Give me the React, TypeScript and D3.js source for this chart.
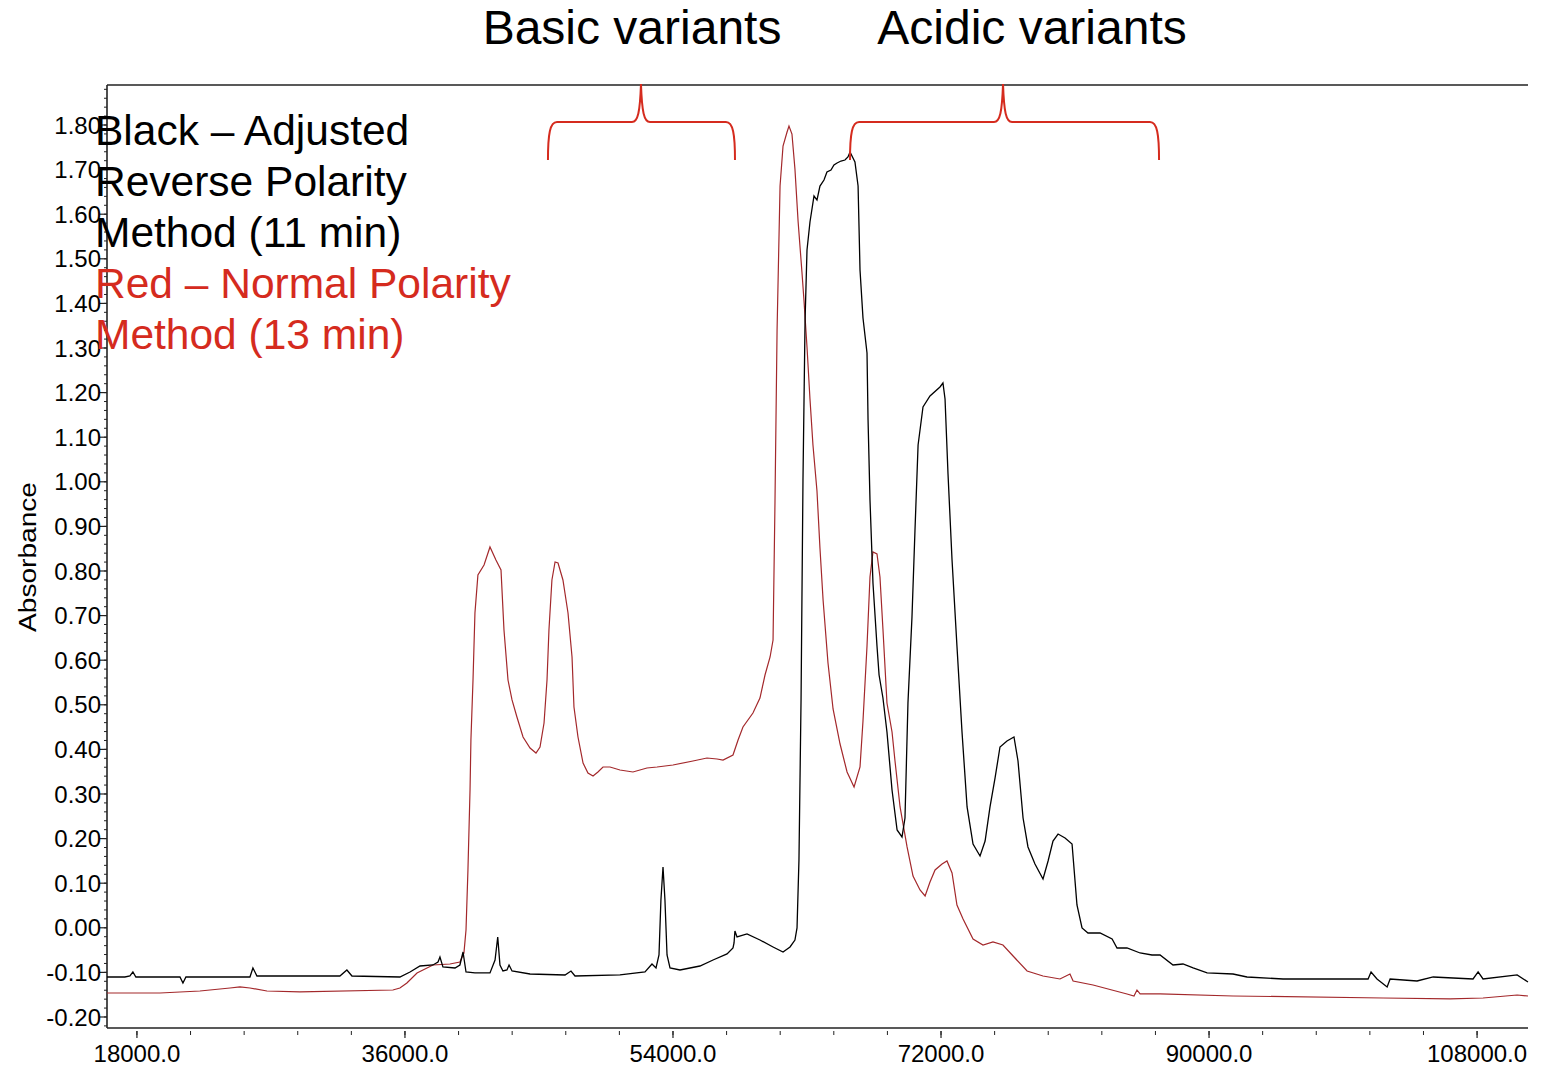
import React from "react";
import * as d3 from "d3";

// ---- Data (x: acquisition units, y: absorbance) ----
const xTickValues = [18000, 36000, 54000, 72000, 90000, 108000];
const yTickValues = [-0.2, -0.1, 0, 0.1, 0.2, 0.3, 0.4, 0.5, 0.6, 0.7, 0.8, 0.9, 1.0, 1.1, 1.2, 1.3, 1.4, 1.5, 1.6, 1.7, 1.8];
const xDomain = [15990, 111420];
const yDomain = [-0.2247, 1.8897];

const titles = ["Basic variants", "Acidic variants"];
const titleCenters = [51250, 78110];

const legendLines = [
  { text: "Black \u2013 Adjusted", color: "#000000" },
  { text: "Reverse Polarity", color: "#000000" },
  { text: "Method (11 min)", color: "#000000" },
  { text: "Red \u2013 Normal Polarity", color: "#d52b1e" },
  { text: "Method (13 min)", color: "#d52b1e" },
];

// brackets: [left, middle, right] in x units; ends, bar and tip in absorbance
const brackets = [
  { left: 45604, mid: 51850, right: 58164 },
  { left: 65888, mid: 76164, right: 86642 },
];
const bracketEndY = 1.7215;
const bracketBarY = 1.8067;
const bracketTipY = 1.8919;

const blackSeries: [number, number][] = [
  [15990, -0.1103], [17190, -0.1103], [17530, -0.1081], [17730, -0.0991], [17930, -0.1103],
  [20890, -0.1103], [21090, -0.1238], [21290, -0.1103], [25590, -0.1103], [25790, -0.0901],
  [26060, -0.1081], [31630, -0.1081], [32100, -0.0946], [32440, -0.1081], [35660, -0.1103],
  [36340, -0.0991], [37010, -0.0857], [37880, -0.0834], [38220, -0.0767], [38350, -0.0655],
  [38550, -0.0879], [39360, -0.0901], [39690, -0.0834], [39900, -0.0543], [40100, -0.0991],
  [40700, -0.1013], [41710, -0.1013], [42050, -0.0722], [42230, -0.0206], [42380, -0.0834],
  [42580, -0.0969], [42850, -0.0946], [42990, -0.0834], [43190, -0.0969], [44400, -0.1036],
  [46750, -0.1058], [47150, -0.0969], [47420, -0.1081], [50440, -0.1058], [52120, -0.0991],
  [52590, -0.0812], [52860, -0.0901], [53060, -0.0610], [53190, 0.0623], [53330, 0.1363],
  [53460, 0.0623], [53600, -0.0610], [53800, -0.0901], [54470, -0.0946], [55810, -0.0857],
  [56690, -0.0722], [57630, -0.0587], [58030, -0.0453], [58100, -0.0341], [58160, -0.0072],
  [58300, -0.0206], [58970, -0.0139], [59840, -0.0274], [60720, -0.0430], [61390, -0.0543],
  [61860, -0.0430], [62190, -0.0274], [62330, -0.0004], [62460, 0.1520], [62600, 0.5108],
  [62730, 1.0040], [62870, 1.3628], [63000, 1.5197], [63200, 1.5825], [63470, 1.6408],
  [63670, 1.6318], [63870, 1.6632], [64140, 1.6767], [64340, 1.6946], [64610, 1.6991],
  [64810, 1.7103], [65020, 1.7148], [65280, 1.7193], [65550, 1.7215], [65750, 1.7283],
  [65890, 1.7395], [66220, 1.7170], [66430, 1.6632], [66560, 1.4749], [66760, 1.3673],
  [67030, 1.2888], [67100, 1.1386], [67230, 0.9592], [67430, 0.7731], [67700, 0.6318],
  [67840, 0.5668], [68100, 0.5152], [68370, 0.4390], [68710, 0.3090], [69050, 0.2193],
  [69380, 0.2036], [69580, 0.2462], [69780, 0.5040], [70050, 0.6969], [70250, 0.8897],
  [70460, 1.0825], [70790, 1.1677], [71260, 1.1924], [71930, 1.2126], [72130, 1.2215],
  [72270, 1.1857], [72470, 1.0175], [72740, 0.8247], [73070, 0.6318], [73410, 0.4390],
  [73750, 0.2709], [74150, 0.1879], [74620, 0.1610], [74960, 0.1946], [75290, 0.2709],
  [75630, 0.3359], [75960, 0.4054], [76430, 0.4188], [76900, 0.4278], [77170, 0.3740],
  [77510, 0.2462], [77840, 0.1812], [78310, 0.1430], [78850, 0.1094], [79190, 0.1498],
  [79520, 0.1946], [79860, 0.2103], [80330, 0.2013], [80800, 0.1879], [81130, 0.0511],
  [81470, -0.0004], [81870, -0.0117], [82680, -0.0117], [83490, -0.0251], [83820, -0.0453],
  [84490, -0.0453], [85370, -0.0565], [86170, -0.0610], [86710, -0.0610], [87580, -0.0834],
  [88250, -0.0812], [88930, -0.0901], [89870, -0.1013], [91610, -0.1036], [92550, -0.1103],
  [94970, -0.1148], [100680, -0.1148], [100880, -0.0991], [101280, -0.1148], [101960, -0.1327],
  [102160, -0.1148], [103970, -0.1193], [105050, -0.1103], [107730, -0.1148], [108070, -0.0991],
  [108400, -0.1148], [110690, -0.1058], [111420, -0.1215],
];

const redSeries: [number, number][] = [
  [15990, -0.1462], [19550, -0.1462], [22230, -0.1417], [24250, -0.1350], [24920, -0.1327],
  [25590, -0.1350], [26730, -0.1417], [28950, -0.1439], [35190, -0.1395], [35660, -0.1350],
  [36130, -0.1238], [36810, -0.1013], [37880, -0.0834], [39020, -0.0812], [39690, -0.0767],
  [39960, -0.0565], [40100, -0.0049], [40230, 0.1296], [40370, 0.3090], [40430, 0.4211],
  [40570, 0.5556], [40700, 0.7058], [40900, 0.7910], [41310, 0.8135], [41710, 0.8538],
  [42110, 0.8247], [42450, 0.8022], [42650, 0.6677], [42920, 0.5556], [43190, 0.5108],
  [43520, 0.4726], [43930, 0.4278], [44400, 0.4031], [44800, 0.3919], [45070, 0.4054],
  [45340, 0.4592], [45540, 0.5556], [45670, 0.6677], [45870, 0.7798], [46080, 0.8202],
  [46280, 0.8179], [46610, 0.7798], [46950, 0.7058], [47220, 0.6072], [47350, 0.4951],
  [47620, 0.4278], [47960, 0.3695], [48290, 0.3471], [48630, 0.3404], [48960, 0.3493],
  [49300, 0.3605], [49770, 0.3605], [50440, 0.3538], [51310, 0.3493], [52250, 0.3583],
  [52930, 0.3605], [54000, 0.3650], [55340, 0.3740], [56280, 0.3807], [56960, 0.3785],
  [57360, 0.3762], [58030, 0.3874], [58370, 0.4211], [58700, 0.4502], [59370, 0.4816],
  [59840, 0.5152], [60180, 0.5668], [60520, 0.6072], [60720, 0.6453], [60850, 0.9547],
  [60990, 1.3404], [61190, 1.6632], [61390, 1.7529], [61660, 1.7843], [61790, 1.7978],
  [61990, 1.7798], [62190, 1.7013], [62400, 1.5848], [62660, 1.4704], [62800, 1.4054],
  [63000, 1.3022], [63200, 1.1857], [63400, 1.0825], [63670, 0.9794], [63870, 0.8516],
  [64080, 0.7350], [64410, 0.5937], [64750, 0.4906], [65220, 0.4121], [65690, 0.3493],
  [66160, 0.3157], [66560, 0.3605], [66760, 0.4637], [67030, 0.6318], [67230, 0.7865],
  [67430, 0.8426], [67700, 0.8381], [67900, 0.7865], [68100, 0.6700], [68370, 0.5040],
  [68710, 0.4390], [68910, 0.3740], [69250, 0.2709], [69720, 0.1812], [70120, 0.1161],
  [70590, 0.0848], [70930, 0.0713], [71260, 0.1027], [71600, 0.1296], [72070, 0.1430],
  [72400, 0.1498], [72740, 0.1229], [73070, 0.0511], [73480, 0.0197], [74150, -0.0251],
  [74820, -0.0386], [75490, -0.0318], [76160, -0.0386], [76840, -0.0632], [77780, -0.0969],
  [78850, -0.1081], [79990, -0.1148], [80660, -0.1036], [80870, -0.1193], [82210, -0.1283],
  [84490, -0.1484], [84960, -0.1529], [85160, -0.1395], [85370, -0.1484], [86710, -0.1484],
  [91610, -0.1529], [101690, -0.1574], [106190, -0.1596], [108400, -0.1574], [110690, -0.1507],
  [111420, -0.1529],
];

const FONT = "'Liberation Sans', Arial, Helvetica, sans-serif";

export default function App() {
  const W = 1542;
  const H = 1067;
  const left = 107;
  const right = 1528;
  const top = 85;
  const bottom = 1028;

  const x = d3.scaleLinear().domain(xDomain).range([left, right]);
  const y = d3.scaleLinear().domain(yDomain).range([bottom, top]);

  const line = d3
    .line<[number, number]>()
    .x((d) => x(d[0]))
    .y((d) => y(d[1]));

  const yMinor = d3.range(-0.22, 1.885, 0.02).filter((v) => y(v) <= bottom && y(v) >= top);
  const xMinor = d3.range(18000, 108001, 3600);

  const bracketPath = (b: { left: number; mid: number; right: number }) => {
    const xl = x(b.left), xm = x(b.mid), xr = x(b.right);
    const ye = y(bracketEndY), yb = y(bracketBarY), yt = y(bracketTipY);
    return (
      `M${xl},${ye} C${xl},${yb + 12} ${xl + 2},${yb} ${xl + 9},${yb} ` +
      `L${xm - 9},${yb} C${xm - 3},${yb} ${xm - 1},${yb - 10} ${xm},${yt} ` +
      `C${xm + 1},${yb - 10} ${xm + 3},${yb} ${xm + 9},${yb} ` +
      `L${xr - 9},${yb} C${xr - 2},${yb} ${xr},${yb + 12} ${xr},${ye}`
    );
  };

  return (
    <div style={{ position: "absolute", left: 0, top: 0 }}>
      <svg width={W} height={H} style={{ display: "block", background: "#fff" }} fontFamily={FONT}>
        <rect x={0} y={0} width={W} height={H} fill="#ffffff" />

        {/* titles */}
        {titles.map((t, i) => (
          <text key={t} x={x(titleCenters[i])} y={44} fontSize={48} textAnchor="middle" fill="#000">
            {t}
          </text>
        ))}

        {/* frame */}
        <line x1={left} x2={right} y1={top} y2={top} stroke="#222" strokeWidth={1.6} />
        <line x1={left} x2={left} y1={top} y2={bottom} stroke="#222" strokeWidth={1.6} />
        <line x1={left} x2={right} y1={bottom} y2={bottom} stroke="#222" strokeWidth={1.6} />

        {/* y ticks */}
        {yMinor.map((v, i) => (
          <line key={"ym" + i} x1={left - 3} x2={left} y1={y(v)} y2={y(v)} stroke="#222" strokeWidth={1} />
        ))}
        {yTickValues.map((v) => (
          <g key={"y" + v}>
            <line x1={left - 7} x2={left} y1={y(v)} y2={y(v)} stroke="#222" strokeWidth={1.2} />
            <text x={101} y={y(v)} dy="0.36em" fontSize={24} textAnchor="end" fill="#000">
              {v.toFixed(2)}
            </text>
          </g>
        ))}

        {/* x ticks */}
        {xMinor.map((v, i) => (
          <line key={"xm" + i} x1={x(v)} x2={x(v)} y1={bottom + 3} y2={bottom + 7} stroke="#222" strokeWidth={1} />
        ))}
        {xTickValues.map((v) => (
          <g key={"x" + v}>
            <line x1={x(v)} x2={x(v)} y1={bottom + 3} y2={bottom + 10} stroke="#222" strokeWidth={1.2} />
            <text x={x(v)} y={1062} fontSize={24} textAnchor="middle" fill="#000">
              {v.toFixed(1)}
            </text>
          </g>
        ))}

        {/* y axis title */}
        <text
          transform={`translate(36,557) rotate(-90)`}
          fontSize={23}
          textAnchor="middle"
          fill="#000"
          textLength={150}
          lengthAdjust="spacingAndGlyphs"
        >
          Absorbance
        </text>

        {/* series */}
        <path d={line(redSeries) || ""} fill="none" stroke="#a3282b" strokeWidth={1.2} />
        <path d={line(blackSeries) || ""} fill="none" stroke="#000" strokeWidth={1.3} />

        {/* brackets */}
        {brackets.map((b, i) => (
          <path key={"b" + i} d={bracketPath(b)} fill="none" stroke="#d52b1e" strokeWidth={2} />
        ))}

        {/* legend text */}
        {legendLines.map((l, i) => (
          <text key={"l" + i} x={95} y={145 + i * 51} fontSize={42.5} fill={l.color}>
            {l.text}
          </text>
        ))}
      </svg>
    </div>
  );
}
